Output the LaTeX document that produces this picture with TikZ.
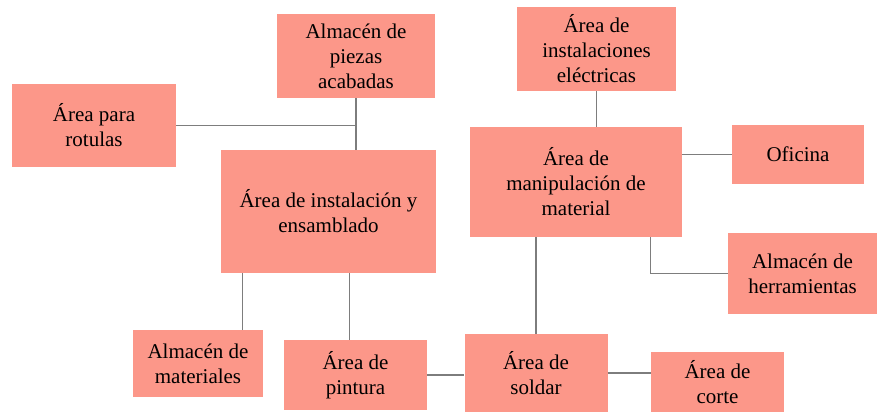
\documentclass[tikz,border=0pt]{standalone}
\usepackage{fontspec}
\setmainfont{LiberationSerif}[Extension=.ttf, UprightFont=*-Regular, BoldFont=*-Bold]
\definecolor{salmon}{RGB}{252,151,137}
\definecolor{linegray}{RGB}{125,125,125}

\begin{document}
\begin{tikzpicture}[x=1pt, y=-1pt,
    area/.style={fill=salmon, rectangle, align=center, inner sep=0pt, font=\fontsize{21}{25}\selectfont},
    link/.style={draw=linegray, line width=1.2pt}]
    \useasboundingbox (0,0) rectangle (878,413);

    \node[area, minimum width=158pt, minimum height=84pt] (piezas) at (356,56) {Almacén de\\piezas\\acabadas};
    \node[area, minimum width=164pt, minimum height=83pt] (rotulas) at (94,125.5) {Área para\\rotulas};
    \node[area, minimum width=215pt, minimum height=123pt] (ensamblado) at (328.5,211.5) {Área de instalación y\\ensamblado};
    \node[area, minimum width=159pt, minimum height=84pt] (electricas) at (596.5,49) {Área de\\instalaciones\\eléctricas};
    \node[area, minimum width=212pt, minimum height=110pt] (manipulacion) at (576,182) {Área de\\manipulación de\\material};
    \node[area, minimum width=132pt, minimum height=59pt] (oficina) at (798,154.5) {Oficina};
    \node[area, minimum width=149pt, minimum height=81pt] (herramientas) at (802.5,273.5) {Almacén de\\herramientas};
    \node[area, minimum width=130pt, minimum height=67pt] (materiales) at (198,363.5) {Almacén de\\materiales};
    \node[area, minimum width=143pt, minimum height=70pt] (pintura) at (355.5,375) {Área de\\pintura};
    \node[area, minimum width=143pt, minimum height=78pt] (soldar) at (536,373) {Área de\\soldar};
    \node[area, minimum width=133pt, minimum height=60pt] (corte) at (717.5,382) {Área de\\corte};

    \draw[link] (piezas.south) -- (piezas.south |- ensamblado.north);
    \draw[link] (rotulas.east) -- (rotulas.east -| piezas.south);
    \draw[link] ([xshift=22pt]ensamblado.south west) -- ([xshift=22pt]ensamblado.south west |- materiales.north);
    \draw[link] ([xshift=-6pt]pintura.north) -- ([xshift=-6pt]pintura.north |- ensamblado.south);
    \draw[link] (pintura.east) -- (pintura.east -| soldar.west);
    \draw[link] (soldar.north) -- (soldar.north |- manipulacion.south);
    \draw[link] (soldar.east) -- (soldar.east -| corte.west);
    \draw[link] (electricas.south) -- (electricas.south |- manipulacion.north);
    \draw[link] (oficina.west) -- (oficina.west -| manipulacion.east);
    \draw[link] (herramientas.west) -| ([xshift=-32pt]manipulacion.south east);
\end{tikzpicture}
\end{document}
